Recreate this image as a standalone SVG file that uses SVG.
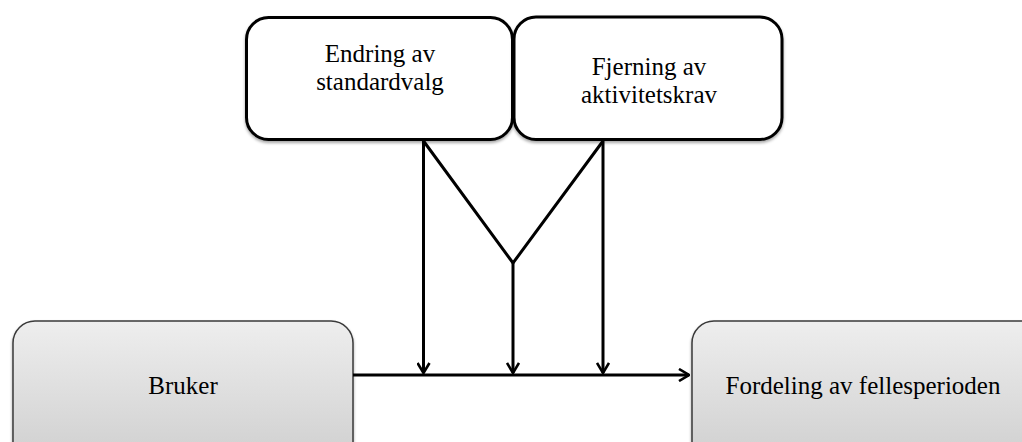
<svg xmlns="http://www.w3.org/2000/svg" width="1022" height="442" viewBox="0 0 1022 442">
<style>
.top{fill:#ffffff;stroke:#000;stroke-width:3}
.bot{fill:url(#g);stroke:#3a3a3a;stroke-width:1.5}
.t{font-family:"Liberation Serif","Times New Roman",serif;font-size:25px;fill:#000;text-anchor:middle}
.c{fill:none;stroke:#000;stroke-width:3}
</style>
<defs>
<linearGradient id="g" x1="0" y1="0" x2="0" y2="1">
<stop offset="0" stop-color="#eeeeee"/>
<stop offset="1" stop-color="#cdcdcd"/>
</linearGradient>
<filter id="sh" x="-5%" y="-5%" width="110%" height="115%">
<feDropShadow dx="0" dy="2" stdDeviation="1.5" flood-color="#000" flood-opacity="0.35"/>
</filter>
<marker id="ah" viewBox="0 0 12 14" refX="11" refY="7" markerWidth="12" markerHeight="14" markerUnits="userSpaceOnUse" orient="auto">
<path d="M1,1 L11,7 L1,13" fill="none" stroke="#000" stroke-width="2.6"/>
</marker>
</defs>
<g id="node-endring">
<rect class="top" x="246.5" y="17.5" width="266" height="122" rx="22" filter="url(#sh)"/>
<text class="t" x="380" y="61.5">Endring av</text>
<text class="t" x="380" y="89.5">standardvalg</text>
</g>
<g id="node-fjerning">
<rect class="top" x="514" y="17" width="268" height="122.5" rx="22" filter="url(#sh)"/>
<text class="t" x="649" y="75">Fjerning av</text>
<text class="t" x="649" y="103">aktivitetskrav</text>
</g>
<g id="node-bruker">
<rect class="bot" x="13" y="321" width="340" height="150" rx="22" filter="url(#sh)"/>
<text class="t" x="183" y="394">Bruker</text>
</g>
<g id="node-fordeling">
<rect class="bot" x="692" y="321" width="360" height="150" rx="22" filter="url(#sh)"/>
<text class="t" x="863" y="394">Fordeling av fellesperioden</text>
</g>
<g id="connectors">
<line class="c" x1="353" y1="375" x2="689" y2="375" marker-end="url(#ah)"/>
<line class="c" x1="423.5" y1="141" x2="423.5" y2="373" marker-end="url(#ah)"/>
<line class="c" x1="603" y1="141" x2="603" y2="373" marker-end="url(#ah)"/>
<polyline class="c" points="423.5,141 513,263 603,141"/>
<line class="c" x1="513" y1="263" x2="513" y2="373" marker-end="url(#ah)"/>
</g>
</svg>
